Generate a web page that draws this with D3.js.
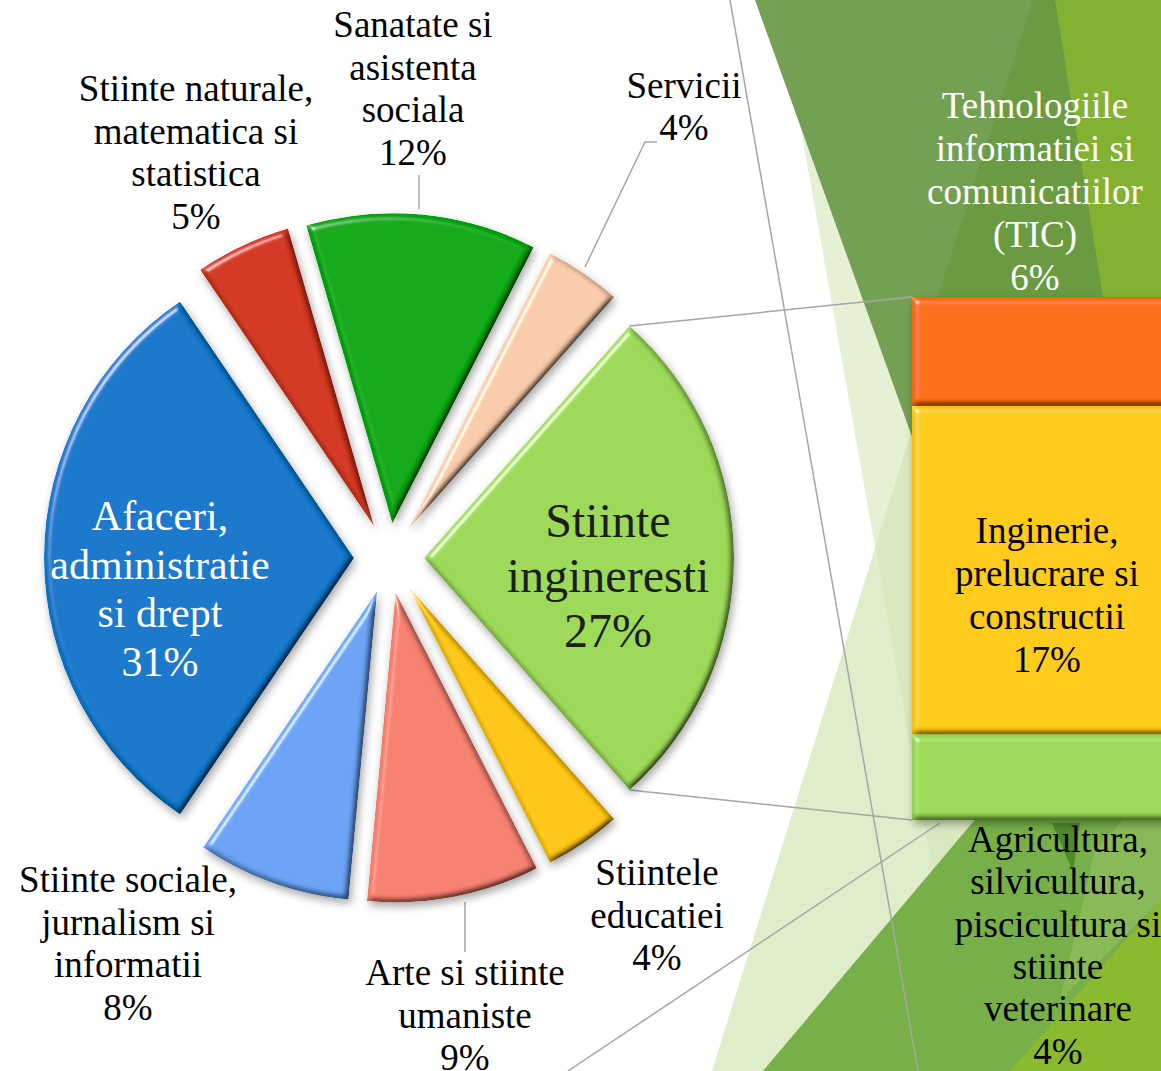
<!DOCTYPE html>
<html><head><meta charset="utf-8">
<script src="https://cdn.jsdelivr.net/npm/d3@7"></script>
<style>html,body{margin:0;padding:0;background:#fff;overflow:hidden}</style>
</head><body>
<svg id="chart" width="1161" height="1071"></svg>
<script>
// ---------- DATA ----------
const pieCategories = ["Stiinte ingineresti","Stiintele educatiei","Arte si stiinte umaniste","Stiinte sociale, jurnalism si informatii","Afaceri, administratie si drept","Stiinte naturale, matematica si statistica","Sanatate si asistenta sociala","Servicii"];
const pieLabelLines = [["Stiinte","ingineresti"],["Stiintele","educatiei"],["Arte si stiinte","umaniste"],["Stiinte sociale,","jurnalism si","informatii"],["Afaceri,","administratie","si drept"],["Stiinte naturale,","matematica si","statistica"],["Sanatate si","asistenta","sociala"],["Servicii"]];
const pieColors = ["#9BD957","#FFC60A","#F6806F","#6AA3F5","#0A77CA","#D2361F","#06A90C","#F8CBAA"];
const pieOtherValues = [null,4,9,8,31,5,12,4]; // first = "other" (sum of bar)

const barCategories = ["Tehnologiile informatiei si comunicatiilor (TIC)","Inginerie, prelucrare si constructii","Agricultura, silvicultura, piscicultura si stiinte veterinare"];
const barLabelLines = [["Tehnologiile","informatiei si","comunicatiilor","(TIC)"],["Inginerie,","prelucrare si","constructii"],["Agricultura,","silvicultura,","piscicultura si","stiinte","veterinare"]];
const barValues = [5.6,16.9,4.4];
const barColors = ["#FF6D0A","#FFCA08","#9BD957"];

// ---------- LAYOUT ----------
const W=1161,H=1071;
const svg=d3.select("#chart");
const cx=389, cy=558, R=310, explode=35;
const bar={x0:912,x1:1185,y0:297,y1:820};
const serif="'Liberation Serif','Times New Roman',serif";

const defs=svg.append("defs");
const f=defs.append("filter").attr("id","bevel").attr("x","-20%").attr("y","-20%").attr("width","140%").attr("height","140%");
f.html(`
 <feGaussianBlur in="SourceAlpha" stdDeviation="3" result="blur"/>
 <feDiffuseLighting in="blur" surfaceScale="6" diffuseConstant="1.155" lighting-color="#ffffff" result="diff">
   <feDistantLight azimuth="225" elevation="60"/>
 </feDiffuseLighting>
 <feComposite in="SourceGraphic" in2="diff" operator="arithmetic" k1="1" k2="0" k3="0" k4="0" result="shaded"/>
 <feSpecularLighting in="blur" surfaceScale="6" specularConstant="0.6" specularExponent="30" lighting-color="#ffffff" result="spec">
   <feDistantLight azimuth="225" elevation="30"/>
 </feSpecularLighting>
 <feComposite in="spec" in2="SourceAlpha" operator="in" result="specIn"/>
 <feComposite in="shaded" in2="specIn" operator="arithmetic" k1="0" k2="1" k3="1" k4="0" result="lit"/>
 <feComposite in="lit" in2="SourceAlpha" operator="in" result="litIn"/>
 <feGaussianBlur in="SourceAlpha" stdDeviation="4" result="sb"/>
 <feOffset in="sb" dx="2" dy="4" result="so"/>
 <feFlood flood-color="#000" flood-opacity="0.35"/>
 <feComposite in2="so" operator="in" result="shadow"/>
 <feMerge><feMergeNode in="shadow"/><feMergeNode in="litIn"/></feMerge>`);

// ---------- BACKGROUND (theme decoration) ----------
const bg=svg.append("g");
const poly=(pts,fill,op)=>bg.append("path").attr("d","M"+pts.map(p=>p.join(",")).join("L")+"Z").attr("fill",fill).attr("opacity",op||1);
poly([[778,0],[1161,0],[1161,1071],[968,1071]],"#E6F0D5");
poly([[915,420],[1161,300],[1161,1071],[712,1071]],"#D3E5B5",0.7);
poly([[755,0],[1161,0],[1161,520],[942,520]],"#6E9B4C",0.95);
poly([[1033,0],[1161,0],[1161,320],[930,320]],"#699A3E",0.9);
poly([[1055,0],[1161,0],[1161,300],[1103,297]],"#83B232");
poly([[1000,790],[1161,790],[1161,1071],[763,1071]],"#77AF48");
poly([[1161,900],[1161,1071],[1010,1071]],"#8BBA30");
poly([[1161,780],[1161,900],[1060,1000],[1095,850]],"#A2C86A",0.45);
poly([[1052,823],[1080,823],[1073,872]],"#4F8A2A");

// thin leader lines crossing background
const lines=svg.append("g").attr("stroke","#A6A6A6").attr("stroke-width",1.5).attr("fill","none");
lines.append("line").attr("x1",730).attr("y1",0).attr("x2",918).attr("y2",1071);
lines.append("line").attr("x1",568).attr("y1",1071).attr("x2",940).attr("y2",823);

// ---------- PIE ----------
const otherTotal=d3.sum(barValues);
const pieValues=pieOtherValues.map((v,i)=>i===0?otherTotal:v);
const total=d3.sum(pieValues);
const otherAngle=otherTotal/total*2*Math.PI;
const start=Math.PI/2-otherAngle/2;
const pie=d3.pie().sort(null).startAngle(start).endAngle(start+2*Math.PI);
const arcs=pie(pieValues);
const arc=d3.arc().innerRadius(0).outerRadius(R);
const off=d=>{const m=(d.startAngle+d.endAngle)/2;return [explode*Math.sin(m),-explode*Math.cos(m)];};

// series lines from "other" slice to bar
const o=arcs[0], oo=off(o);
const pA=[cx+oo[0]+R*Math.sin(o.startAngle), cy+oo[1]-R*Math.cos(o.startAngle)];
const pB=[cx+oo[0]+R*Math.sin(o.endAngle), cy+oo[1]-R*Math.cos(o.endAngle)];
lines.append("line").attr("x1",pA[0]).attr("y1",pA[1]).attr("x2",bar.x0).attr("y2",bar.y0);
lines.append("line").attr("x1",pB[0]).attr("y1",pB[1]).attr("x2",bar.x0).attr("y2",bar.y1);

// label leader lines
lines.append("path").attr("d","M419,175L419,209");
lines.append("path").attr("d","M657,142L645,142L585,267");
lines.append("path").attr("d","M465,902L465,952");

const pg=svg.append("g").attr("transform",`translate(${cx},${cy})`);
pg.selectAll("path.slice").data(arcs).join("path").attr("class","slice")
  .attr("d",arc).attr("fill",(d,i)=>pieColors[i]).attr("filter","url(#bevel)")
  .attr("transform",d=>`translate(${off(d)})`);

// ---------- BAR ----------
const y=d3.scaleLinear().domain([0,otherTotal]).range([bar.y0,bar.y1]);
const stack=d3.cumsum(barValues);
const bg2=svg.append("g");
bg2.selectAll("rect").data(barValues).join("rect")
  .attr("x",bar.x0).attr("width",bar.x1-bar.x0)
  .attr("y",(d,i)=>y(stack[i]-d)).attr("height",d=>y(d)-y(0))
  .attr("fill",(d,i)=>barColors[i]).attr("filter","url(#bevel)");

// ---------- LABELS ----------
const pct=v=>Math.round(v/total*100)+"%";
const pieLabelLayout=[
 {x:608,y:537,lh:55,size:48,color:"#1d1d1d"},
 {x:657,y:885,lh:42.5,size:37,color:"#000"},
 {x:465,y:985,lh:42.5,size:37,color:"#000"},
 {x:128,y:892,lh:42.7,size:37,color:"#000"},
 {x:160,y:530,lh:48.5,size:42,color:"#fff"},
 {x:196,y:101,lh:42.5,size:37,color:"#000"},
 {x:413,y:37,lh:42.7,size:37,color:"#000"},
 {x:684,y:98,lh:42,size:37,color:"#000"}
];
const barLabelLayout=[
 {x:1035,y:118,lh:43,size:37,color:"#fff"},
 {x:1047,y:543,lh:43,size:37,color:"#000"},
 {x:1058,y:852,lh:42.3,size:37,color:"#000"}
];
function drawLabel(lines,value,L){
  const t=svg.append("text").attr("font-family",serif).attr("font-size",L.size).attr("fill",L.color).attr("text-anchor","middle");
  lines.concat([pct(value)]).forEach((s,k)=>t.append("tspan").attr("x",L.x).attr("y",L.y+k*L.lh).text(s));
}
pieLabelLines.forEach((l,i)=>drawLabel(l,pieValues[i],pieLabelLayout[i]));
barLabelLines.forEach((l,i)=>drawLabel(l,barValues[i],barLabelLayout[i]));
</script>
</body></html>
